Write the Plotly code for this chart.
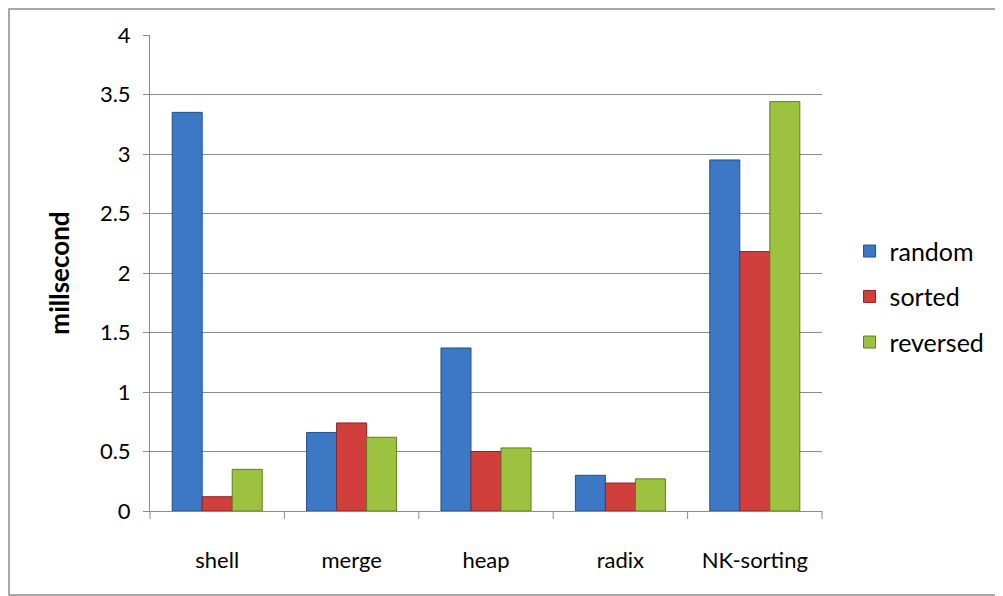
import plotly.graph_objects as go

categories = ["shell", "merge", "heap", "radix", "NK-sorting"]
random_vals = [3.35, 0.66, 1.37, 0.30, 2.95]
sorted_vals = [0.12, 0.74, 0.50, 0.235, 2.18]
reversed_vals = [0.35, 0.62, 0.53, 0.27, 3.44]
y_ticks = [0, 0.5, 1, 1.5, 2, 2.5, 3, 3.5, 4]
y_tick_text = ["0", "0.5", "1", "1.5", "2", "2.5", "3", "3.5", "4"]

series = [
    ("random", random_vals, "#3D78C4", "#24508A"),
    ("sorted", sorted_vals, "#D13F3D", "#8E2321"),
    ("reversed", reversed_vals, "#9CC23F", "#617D22"),
]

fig = go.Figure()
for name, vals, color, line in series:
    fig.add_trace(go.Bar(
        name=name, x=categories, y=vals, legendgroup=name,
        marker=dict(color=color, line=dict(color=line, width=1)),
    ))

# page body has an 8px offset; compensate
W, H = 995, 588
L, R, T, B = 142, 181, 27, 85
pw, ph = W - L - R, H - T - B

FONT = "Lato, Open Sans, DejaVu Sans, sans-serif"

fig.update_layout(
    width=W, height=H,
    margin=dict(l=L, r=R, t=T, b=B),
    paper_bgcolor="white", plot_bgcolor="white",
    barmode="group", bargap=0.33, bargroupgap=0,
    font=dict(family=FONT, size=22, color="#000000"),
    showlegend=True,
    legend=dict(x=1.041, y=0.45, xanchor="left", yanchor="middle",
                font=dict(size=25), itemwidth=30, tracegroupgap=10,
                traceorder="grouped", bgcolor="rgba(0,0,0,0)"),
    xaxis=dict(showgrid=False, showline=True, linecolor="#8C8C8C", linewidth=1,
               ticks="", tickfont=dict(size=22), ticklabelstandoff=30),
    yaxis=dict(range=[0, 4], tickvals=y_ticks, ticktext=y_tick_text,
               showgrid=True, gridcolor="#8C8C8C", gridwidth=1,
               showline=True, linecolor="#8C8C8C", linewidth=1,
               ticks="outside", ticklen=6, tickcolor="#8C8C8C",
               tickfont=dict(size=22), ticklabelstandoff=8,
               title=dict(text="<b>millsecond</b>", font=dict(size=26), standoff=22),
               zeroline=False),
)

# category boundary tick marks on x-axis
for i in range(len(categories) + 1):
    fig.add_shape(type="line", xref="paper", yref="paper",
                  x0=i / len(categories), x1=i / len(categories),
                  y0=0, y1=-8 / ph, line=dict(color="#8C8C8C", width=1))

# outer chart border
fig.add_shape(type="rect", xref="paper", yref="paper",
              x0=(1 - L) / pw, x1=(1010 - L) / pw,
              y0=-(587 - (T + ph)) / ph, y1=1 + (T - 1) / ph,
              line=dict(color="#8C8C8C", width=1.5), fillcolor="rgba(0,0,0,0)",
              layer="below")

fig.write_html("out.html")
